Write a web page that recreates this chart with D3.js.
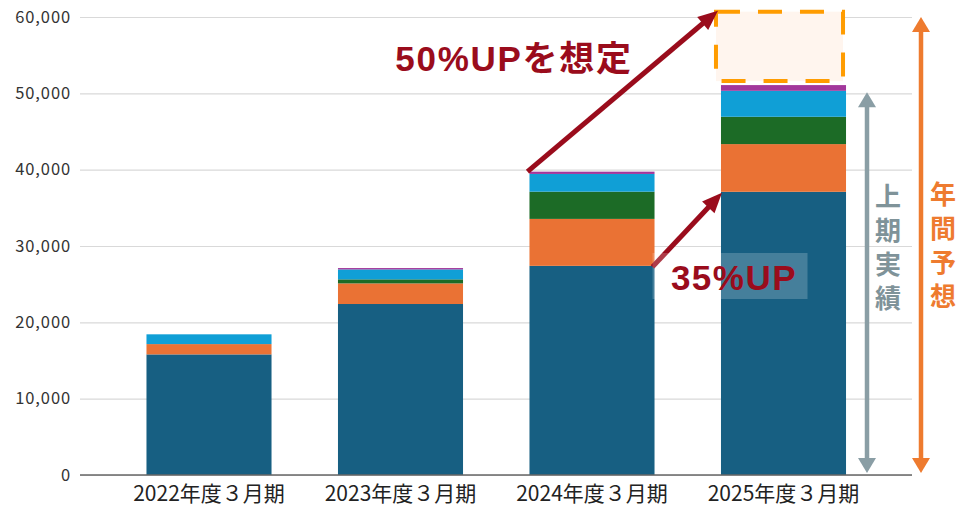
<!DOCTYPE html>
<html><head><meta charset="utf-8">
<script src="https://cdn.jsdelivr.net/npm/d3@7"></script>
<style>
html,body{margin:0;padding:0;background:#fff;}
svg{display:block;}
</style></head>
<body>
<svg id="chart" width="957" height="506"></svg>
<script>
// ---- data ----
const categories = ["2022年度３月期", "2023年度３月期", "2024年度３月期", "2025年度３月期"];
const seriesKeys = ["base", "second", "third", "fourth", "fifth"];
const baseValues   = [15800, 22400, 27400, 37100];
const secondValues = [1350, 2700, 6150, 6250];
const thirdValues  = [0, 530, 3570, 3580];
const fourthValues = [1280, 1300, 2320, 3400];
const fifthValues  = [0, 180, 300, 750];
const yTicks = [0, 10000, 20000, 30000, 40000, 50000, 60000];
const forecastBox = [51600, 60700];   // annotation box range (value)
const halfResult = 50000;             // 上期実績 arrow top
const fullForecast = 60000;           // 年間予想 arrow top
const label50 = "50%UPを想定";
const label35 = "35%UP";
const labelHalf = ["上", "期", "実", "績"];
const labelFull = ["年", "間", "予", "想"];

const colors = {base:"#175f82", second:"#ea7234", third:"#1c6b26", fourth:"#109fd6", fifth:"#a2379b"};

const svg = d3.select("#chart");
const mLeft = 80, mRight = 912, mTop = 17, mBottom = 475;

const x = d3.scaleBand().domain(categories).range([113.25, 879.25]).paddingInner(0.347).paddingOuter(0.1735);
const y = d3.scaleLinear().domain([0, 60000]).range([mBottom, mTop]);

// grid + axis
const yAxis = d3.axisLeft(y).tickValues(yTicks).tickFormat(d3.format(",")).tickSize(-(mRight - mLeft)).tickPadding(9);
const ga = svg.append("g").attr("transform", `translate(${mLeft},0)`).call(yAxis);
ga.select(".domain").remove();
ga.selectAll(".tick line").attr("stroke", "#d9d9d9").attr("stroke-width", 1.2);
ga.selectAll(".tick text").attr("fill", "#333").attr("font-size", 16.5)
  .attr("font-family", "'Noto Sans CJK JP', 'Noto Sans', sans-serif").attr("letter-spacing", "0.9px");

// stacked bars
const rows = categories.map((c, i) => ({cat: c, base: baseValues[i], second: secondValues[i], third: thirdValues[i], fourth: fourthValues[i], fifth: fifthValues[i]}));
const stacked = d3.stack().keys(seriesKeys)(rows);
svg.append("g").selectAll("g").data(stacked).join("g")
  .attr("fill", d => colors[d.key])
  .selectAll("rect").data(d => d).join("rect")
  .attr("x", d => x(d.data.cat))
  .attr("width", x.bandwidth())
  .attr("y", d => y(d[1]))
  .attr("height", d => Math.max(0, y(d[0]) - y(d[1])));

// baseline
svg.append("line").attr("x1", mLeft).attr("x2", mRight).attr("y1", y(0)).attr("y2", y(0))
  .attr("stroke", "#666").attr("stroke-width", 1.5);

// x labels
svg.append("g").selectAll("text").data(categories).join("text")
  .attr("x", d => x(d) + x.bandwidth() / 2).attr("y", 500.5)
  .attr("text-anchor", "middle").attr("font-size", 21).attr("fill", "#222")
  .attr("font-family", "'Noto Sans CJK JP', sans-serif")
  .text(d => d);

// helpers
function arrowHead(g, x1, y1, x2, y2, len, wid, color) {
  const a = Math.atan2(y2 - y1, x2 - x1);
  const bx = x2 - len * Math.cos(a), by = y2 - len * Math.sin(a);
  const px = -Math.sin(a) * wid / 2, py = Math.cos(a) * wid / 2;
  g.append("path").attr("d", `M${x2},${y2}L${bx + px},${by + py}L${bx - px},${by - py}Z`).attr("fill", color);
  return [bx + 2 * Math.cos(a), by + 2 * Math.sin(a)];
}
function arrow(g, x1, y1, x2, y2, w, len, wid, color) {
  const [bx, by] = arrowHead(g, x1, y1, x2, y2, len, wid, color);
  g.append("line").attr("x1", x1).attr("y1", y1).attr("x2", bx).attr("y2", by)
    .attr("stroke", color).attr("stroke-width", w);
}
function doubleArrow(g, xx, y1, y2, w, len, wid, color) {
  const my = (y1 + y2) / 2;
  arrowHead(g, xx, my, xx, y1, len, wid, color);
  arrowHead(g, xx, my, xx, y2, len, wid, color);
  g.append("line").attr("x1", xx).attr("x2", xx).attr("y1", y1 + len - 1).attr("y2", y2 - len + 1)
    .attr("stroke", color).attr("stroke-width", w);
}

const ann = svg.append("g");
const c3 = categories[2], c4 = categories[3];
const red = "#9a0c1c";

// forecast box
const bx0 = x(c4) - 5, bx1 = x(c4) + x.bandwidth() - 3;
ann.append("rect").attr("x", bx0).attr("y", y(forecastBox[1])).attr("width", bx1 - bx0)
  .attr("height", y(forecastBox[0]) - y(forecastBox[1]))
  .attr("fill", "#fff5ee").attr("stroke", "#ff9c00").attr("stroke-width", 4)
  .attr("stroke-dasharray", "24 18");

// arrow 1 : 2024 total -> forecast box
const tot3 = baseValues[2] + secondValues[2] + thirdValues[2] + fourthValues[2] + fifthValues[2];
arrow(ann, x(c3) - 2, y(tot3), bx0 + 2, y(forecastBox[1]) - 1, 5, 20, 17, red);

// arrow 2 : 2024 base -> 2025 base
arrow(ann, x(c3) + x.bandwidth() - 2, y(baseValues[2]) + 1, x(c4) + 1, y(baseValues[3]) + 1, 5, 20, 17, red);

// translucent box behind 35%UP
ann.append("rect").attr("x", x(c3) + x.bandwidth() - 2).attr("y", 253).attr("width", 155).attr("height", 46)
  .attr("fill", "#fff").attr("fill-opacity", 0.2);

ann.append("text").attr("x", 514).attr("y", 71).attr("text-anchor", "middle")
  .attr("font-family", "'Liberation Sans', 'Noto Sans CJK JP', sans-serif").attr("font-weight", "bold")
  .attr("font-size", 35).attr("fill", red).attr("letter-spacing", "1.7px").text(label50);
ann.append("text").attr("x", 734).attr("y", 289.5).attr("text-anchor", "middle")
  .attr("font-family", "'Liberation Sans', sans-serif").attr("font-weight", "bold")
  .attr("font-size", 35).attr("fill", red).attr("letter-spacing", "1.5px").text(label35);

// double arrows
const gray = "#8a9ea5", orangeA = "#ee7b2f";
doubleArrow(ann, 867, y(halfResult) - 1, 473, 4.5, 15, 18, gray);
doubleArrow(ann, 921, y(fullForecast), 473, 4.5, 15, 18, orangeA);

// vertical texts
const charY = [197, 231, 265, 299];
ann.append("g").selectAll("text").data(labelHalf).join("text")
  .attr("x", 888).attr("y", (d, i) => charY[i]).attr("dy", "0.36em").attr("text-anchor", "middle")
  .attr("font-family", "'Noto Sans CJK JP', sans-serif").attr("font-weight", "bold").attr("font-size", 26)
  .attr("fill", "#7f9399").text(d => d);
ann.append("g").selectAll("text").data(labelFull).join("text")
  .attr("x", 943).attr("y", (d, i) => charY[i] - 2).attr("dy", "0.36em").attr("text-anchor", "middle")
  .attr("font-family", "'Noto Sans CJK JP', sans-serif").attr("font-weight", "bold").attr("font-size", 26)
  .attr("fill", orangeA).text(d => d);
</script>
</body></html>
